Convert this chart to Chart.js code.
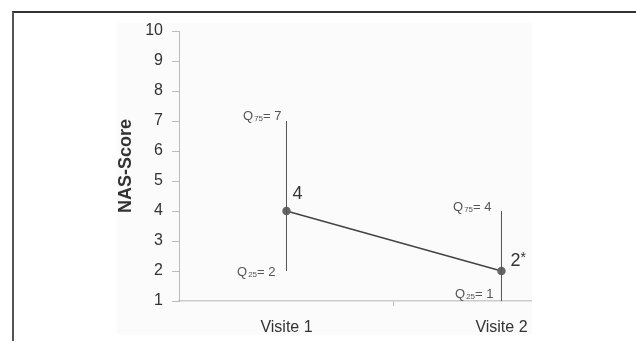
<!DOCTYPE html>
<html>
<head>
<meta charset="utf-8">
<script src="https://cdn.jsdelivr.net/npm/chart.js@4/dist/chart.umd.min.js"></script>
<style>
  body { margin: 0; background: #fff; width: 636px; height: 341px; overflow: hidden; position: relative; }
  #frame { position: absolute; left: 12px; top: 11px; width: 640px; height: 340px; border-top: 2px solid #333; border-left: 2px solid #555; }
  #wrap { position: absolute; left: 117px; top: 23px; width: 415px; height: 312px; background: #fbfbfb; }
</style>
</head>
<body>
<div id="frame"></div>
<div id="wrap"><canvas id="nasChart" width="415" height="312"></canvas></div>
<script>
// NAS-Score, median with quartiles per visit
const visits = ["Visite 1", "Visite 2"];
const median = [4, 2];
const q25 = [2, 1];
const q75 = [7, 4];
const medianLabels = ["4", "2*"];
const yTicks = [1, 2, 3, 4, 5, 6, 7, 8, 9, 10];

const FONT = "'Liberation Sans', Arial, sans-serif";

// category i sits in the middle of its band
const xPos = visits.map((_, i) => i + 0.5);

const errorSets = visits.map((v, i) => ({
    data: [{x: xPos[i], y: q25[i]}, {x: xPos[i], y: q75[i]}],
    showLine: true,
    borderColor: "#555",
    borderWidth: 1,
    pointRadius: 0
}));

const labelPlugin = {
    id: "labels",
    afterDatasetsDraw(chart) {
        const c = chart.ctx;
        const xs = chart.scales.x, ys = chart.scales.y;
        c.save();
        c.fillStyle = "#333";
        c.font = "18px " + FONT;
        c.textAlign = "left";
        c.textBaseline = "middle";
        // offsets for the median labels
        const medOff = [[6, -17], [9, -10]];
        medianLabels.forEach((t, i) => {
            const px = xs.getPixelForValue(xPos[i]);
            const py = ys.getPixelForValue(median[i]);
            const base = t.replace("*", "");
            c.fillText(base, px + medOff[i][0], py + medOff[i][1]);
            if (t.includes("*")) {
                const w = c.measureText(base).width;
                c.font = "14px " + FONT;
                c.fillText("*", px + medOff[i][0] + w, py + medOff[i][1] - 3);
                c.font = "18px " + FONT;
            }
        });

        function qLabel(sub, val, rx, cy) {
            c.fillStyle = "#555";
            c.textBaseline = "middle";
            c.textAlign = "left";
            c.font = "13px " + FONT;
            const wQ = c.measureText("Q").width;
            const wV = c.measureText("= " + val).width;
            c.font = "8px " + FONT;
            const wS = c.measureText(sub).width + 1;
            const x = rx - (wQ + wS + wV);
            c.font = "13px " + FONT;
            c.fillText("Q", x, cy);
            c.font = "8px " + FONT;
            c.fillText(sub, x + wQ + 1, cy + 3);
            c.font = "13px " + FONT;
            c.fillText("= " + val, x + wQ + wS, cy);
        }
        const hiOff = [[-5, -5], [-10, -4]];
        const loOff = [[-11, 1], [-8, -7]];
        visits.forEach((v, i) => {
            const px = xs.getPixelForValue(xPos[i]);
            qLabel("75", q75[i], px + hiOff[i][0], ys.getPixelForValue(q75[i]) + hiOff[i][1]);
            qLabel("25", q25[i], px + loOff[i][0], ys.getPixelForValue(q25[i]) + loOff[i][1]);
        });
        c.restore();
    }
};

new Chart(document.getElementById("nasChart"), {
    type: "scatter",
    data: {
        datasets: [
            ...errorSets,
            {
                data: visits.map((v, i) => ({x: xPos[i], y: median[i]})),
                showLine: true,
                borderColor: "#444",
                borderWidth: 1.5,
                pointRadius: 3.5,
                pointBackgroundColor: "#666",
                pointBorderColor: "#666"
            }
        ]
    },
    options: {
        responsive: false,
        animation: false,
        layout: { autoPadding: false, padding: { top: 8, right: 0, left: 0, bottom: 0 } },
        plugins: { legend: { display: false }, tooltip: { enabled: false } },
        scales: {
            x: {
                type: "linear",
                min: 0,
                max: 1.642,
                afterBuildTicks: s => { s.ticks = [0, 0.5, 1, 1.5].map(v => ({value: v})); },
                afterFit: s => { s.height = 34; s.paddingLeft = 0; s.paddingRight = 0; },
                ticks: {
                    autoSkip: false,
                    maxRotation: 0,
                    padding: 12,
                    color: "#333",
                    font: { family: FONT, size: 16 },
                    callback: v => {
                        const i = xPos.indexOf(v);
                        return i >= 0 ? visits[i] : "";
                    }
                },
                grid: {
                    drawOnChartArea: false,
                    tickLength: 5,
                    tickColor: ctx => (ctx.tick && ctx.tick.value === 1) ? "#bbb" : "rgba(0,0,0,0)"
                },
                border: { color: "#ccc", width: 1.5 }
            },
            y: {
                min: 1,
                max: 10,
                afterBuildTicks: s => { s.ticks = yTicks.map(v => ({value: v})); },
                afterFit: s => { s.width = 62; s.paddingTop = 0; s.paddingBottom = 0; },
                title: {
                    display: true,
                    text: "NAS-Score",
                    color: "#333",
                    padding: 0,
                    font: { family: FONT, size: 18, weight: "bold", lineHeight: 1 }
                },
                ticks: {
                    padding: 9,
                    color: "#333",
                    font: { family: FONT, size: 16 }
                },
                grid: { drawOnChartArea: false, tickLength: 7, tickColor: "#bbb" },
                border: { color: "#bbb", width: 1 }
            }
        }
    },
    plugins: [labelPlugin]
});
</script>
</body>
</html>
